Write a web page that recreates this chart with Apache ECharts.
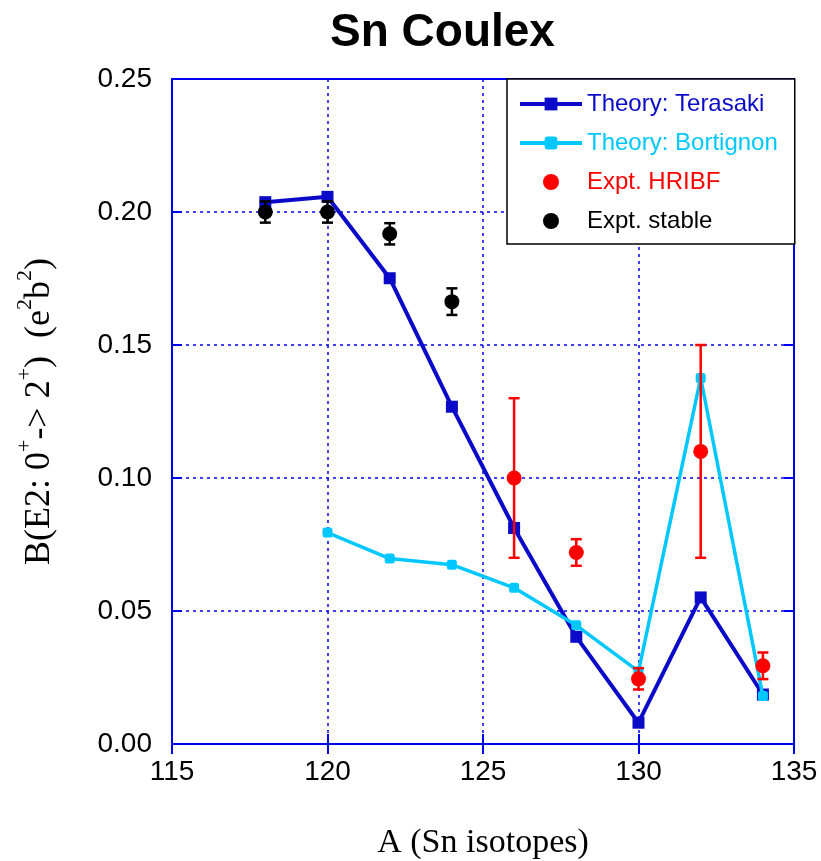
<!DOCTYPE html>
<html>
<head>
<meta charset="utf-8">
<script src="https://cdn.jsdelivr.net/npm/echarts@6/dist/echarts.min.js"></script>
<style>html,body{margin:0;padding:0;background:#fff;}#c{width:821px;height:861px;}</style>
</head>
<body>
<div id="c"></div>
<script>
const xTicks = [115, 120, 125, 130, 135];
const yTicks = [0.00, 0.05, 0.10, 0.15, 0.20, 0.25];

const terasakiA = [118, 120, 122, 124, 126, 128, 130, 132, 134];
const terasakiB = [0.2037, 0.2057, 0.1751, 0.1268, 0.0812, 0.0403, 0.0080, 0.0551, 0.0186];

const bortignonA = [120, 122, 124, 126, 128, 130, 132, 134];
const bortignonB = [0.0795, 0.0697, 0.0674, 0.0587, 0.0446, 0.0273, 0.1376, 0.0180];

const hribfA = [126, 128, 130, 132, 134];
const hribfB = [0.100, 0.072, 0.0245, 0.110, 0.0294];
const hribfErr = [0.030, 0.005, 0.004, 0.040, 0.005];

const stableA = [118, 120, 122, 124];
const stableB = [0.200, 0.200, 0.1918, 0.1663];
const stableErr = [0.004, 0.004, 0.004, 0.005];

const pairs = (xs, ys) => xs.map((x, i) => [x, ys[i]]);
const errRows = (xs, ys, es) => xs.map((x, i) => [x, ys[i] - es[i], ys[i] + es[i]]);

const AXIS_BLUE = '#0000f0';
const TERA = '#0a0ac8';
const BORT = '#00c8ff';
const RED = '#ff0000';

function errorBar(color) {
  return function (params, api) {
    const x = api.value(0);
    const lo = api.coord([x, api.value(1)]);
    const hi = api.coord([x, api.value(2)]);
    const w = 5.5;
    const st = { stroke: color, lineWidth: 2.5 };
    return {
      type: 'group',
      children: [
        { type: 'line', shape: { x1: lo[0], y1: lo[1], x2: hi[0], y2: hi[1] }, style: st },
        { type: 'line', shape: { x1: lo[0] - w, y1: lo[1], x2: lo[0] + w, y2: lo[1] }, style: st },
        { type: 'line', shape: { x1: hi[0] - w, y1: hi[1], x2: hi[0] + w, y2: hi[1] }, style: st }
      ]
    };
  };
}

const chart = echarts.init(document.getElementById('c'), null, { renderer: 'canvas' });

const splitStyle = { show: true, lineStyle: { color: AXIS_BLUE, width: 1.5, type: [3, 4] } };

chart.setOption({
  animation: false,
  backgroundColor: '#fff',
  title: {
    text: 'Sn Coulex',
    left: 325, top: 5,
    textStyle: { fontFamily: 'Arial, Liberation Sans, sans-serif', fontWeight: 'bold', fontSize: 46, color: '#000' }
  },
  grid: {
    left: 172, right: 27, top: 79, bottom: 117, show: true, borderColor: AXIS_BLUE, borderWidth: 2,
    backgroundColor: 'transparent', containLabel: false, outerBoundsMode: 'none'
  },
  legend: {
    orient: 'vertical',
    left: 507, top: 79,
    padding: [13, 17, 11, 11],
    itemGap: 15,
    itemWidth: 62, itemHeight: 16,
    backgroundColor: '#fff',
    borderColor: '#000', borderWidth: 1.5, borderRadius: 0,
    textStyle: { fontFamily: 'Arial, Liberation Sans, sans-serif', fontSize: 24, lineHeight: 24 },
    data: [
      { name: 'Theory: Terasaki', textStyle: { color: TERA }, lineStyle: { width: 4, color: TERA } },
      { name: 'Theory: Bortignon', textStyle: { color: BORT }, lineStyle: { width: 4, color: BORT } },
      { name: 'Expt. HRIBF', textStyle: { color: RED } },
      { name: 'Expt. stable', textStyle: { color: '#000' } }
    ]
  },
  xAxis: [{
    type: 'value', min: xTicks[0], max: xTicks[xTicks.length - 1], interval: 5,
    name: 'A (Sn isotopes)', nameLocation: 'middle', nameGap: 82,
    nameTextStyle: { fontFamily: 'Liberation Serif, Times New Roman, serif', fontSize: 34, color: '#000' },
    axisLine: { show: true, lineStyle: { color: AXIS_BLUE, width: 2 } },
    axisTick: { show: true, inside: true, length: 10, lineStyle: { color: AXIS_BLUE, width: 2 } },
    axisLabel: { margin: 14, fontFamily: 'Arial, Liberation Sans, sans-serif', fontSize: 28, color: '#000' },
    splitLine: splitStyle
  }, {
    type: 'value', position: 'top', min: xTicks[0], max: xTicks[xTicks.length - 1], interval: 5,
    axisLine: { show: true, lineStyle: { color: AXIS_BLUE, width: 2 } },
    axisTick: { show: true, inside: true, length: 10, lineStyle: { color: AXIS_BLUE, width: 2 } },
    axisLabel: { show: false }, splitLine: { show: false }
  }],
  yAxis: [{
    type: 'value', min: yTicks[0], max: yTicks[yTicks.length - 1], interval: 0.05,
    name: '{n|B(E2: 0}{s|+}{n|-> 2}{s|+}{n|)  (e}{s|2}{n|b}{s|2}{n|)}',
    nameLocation: 'middle', nameGap: 114, nameRotate: 90,
    nameTextStyle: {
      color: '#000',
      rich: {
        n: { fontFamily: 'Liberation Serif, Times New Roman, serif', fontSize: 36, color: '#000', verticalAlign: 'bottom', lineHeight: 44 },
        s: { fontFamily: 'Liberation Serif, Times New Roman, serif', fontSize: 22, color: '#000', verticalAlign: 'top', lineHeight: 44 }
      }
    },
    axisLine: { show: true, lineStyle: { color: AXIS_BLUE, width: 2 } },
    axisTick: { show: true, inside: true, length: 10, lineStyle: { color: AXIS_BLUE, width: 2 } },
    axisLabel: { margin: 20, fontFamily: 'Arial, Liberation Sans, sans-serif', fontSize: 28, color: '#000', formatter: v => v.toFixed(2) },
    splitLine: splitStyle
  }, {
    type: 'value', position: 'right', min: yTicks[0], max: yTicks[yTicks.length - 1], interval: 0.05,
    axisLine: { show: true, lineStyle: { color: AXIS_BLUE, width: 2 } },
    axisTick: { show: true, inside: true, length: 10, lineStyle: { color: AXIS_BLUE, width: 2 } },
    axisLabel: { show: false }, splitLine: { show: false }
  }],
  series: [
    {
      name: 'Theory: Terasaki', type: 'line', data: pairs(terasakiA, terasakiB),
      symbol: 'rect', symbolSize: 12, z: 3,
      lineStyle: { color: TERA, width: 4 }, itemStyle: { color: TERA, opacity: 1 }
    },
    {
      name: 'Theory: Bortignon', type: 'line', data: pairs(bortignonA, bortignonB),
      symbol: 'roundRect', symbolSize: 10, z: 4,
      lineStyle: { color: BORT, width: 3.5 }, itemStyle: { color: BORT, opacity: 1 }
    },
    {
      type: 'custom', name: 'hribfErr', data: errRows(hribfA, hribfB, hribfErr),
      renderItem: errorBar(RED), encode: { x: 0, y: [1, 2] }, z: 5, silent: true
    },
    {
      name: 'Expt. HRIBF', type: 'scatter', data: pairs(hribfA, hribfB),
      symbol: 'circle', symbolSize: 15, z: 6, itemStyle: { color: RED, opacity: 1 }
    },
    {
      type: 'custom', name: 'stableErr', data: errRows(stableA, stableB, stableErr),
      renderItem: errorBar('#000'), encode: { x: 0, y: [1, 2] }, z: 5, silent: true
    },
    {
      name: 'Expt. stable', type: 'scatter', data: pairs(stableA, stableB),
      symbol: 'circle', symbolSize: 15, z: 6, itemStyle: { color: '#000', opacity: 1 }
    }
  ]
});
</script>
</body>
</html>
